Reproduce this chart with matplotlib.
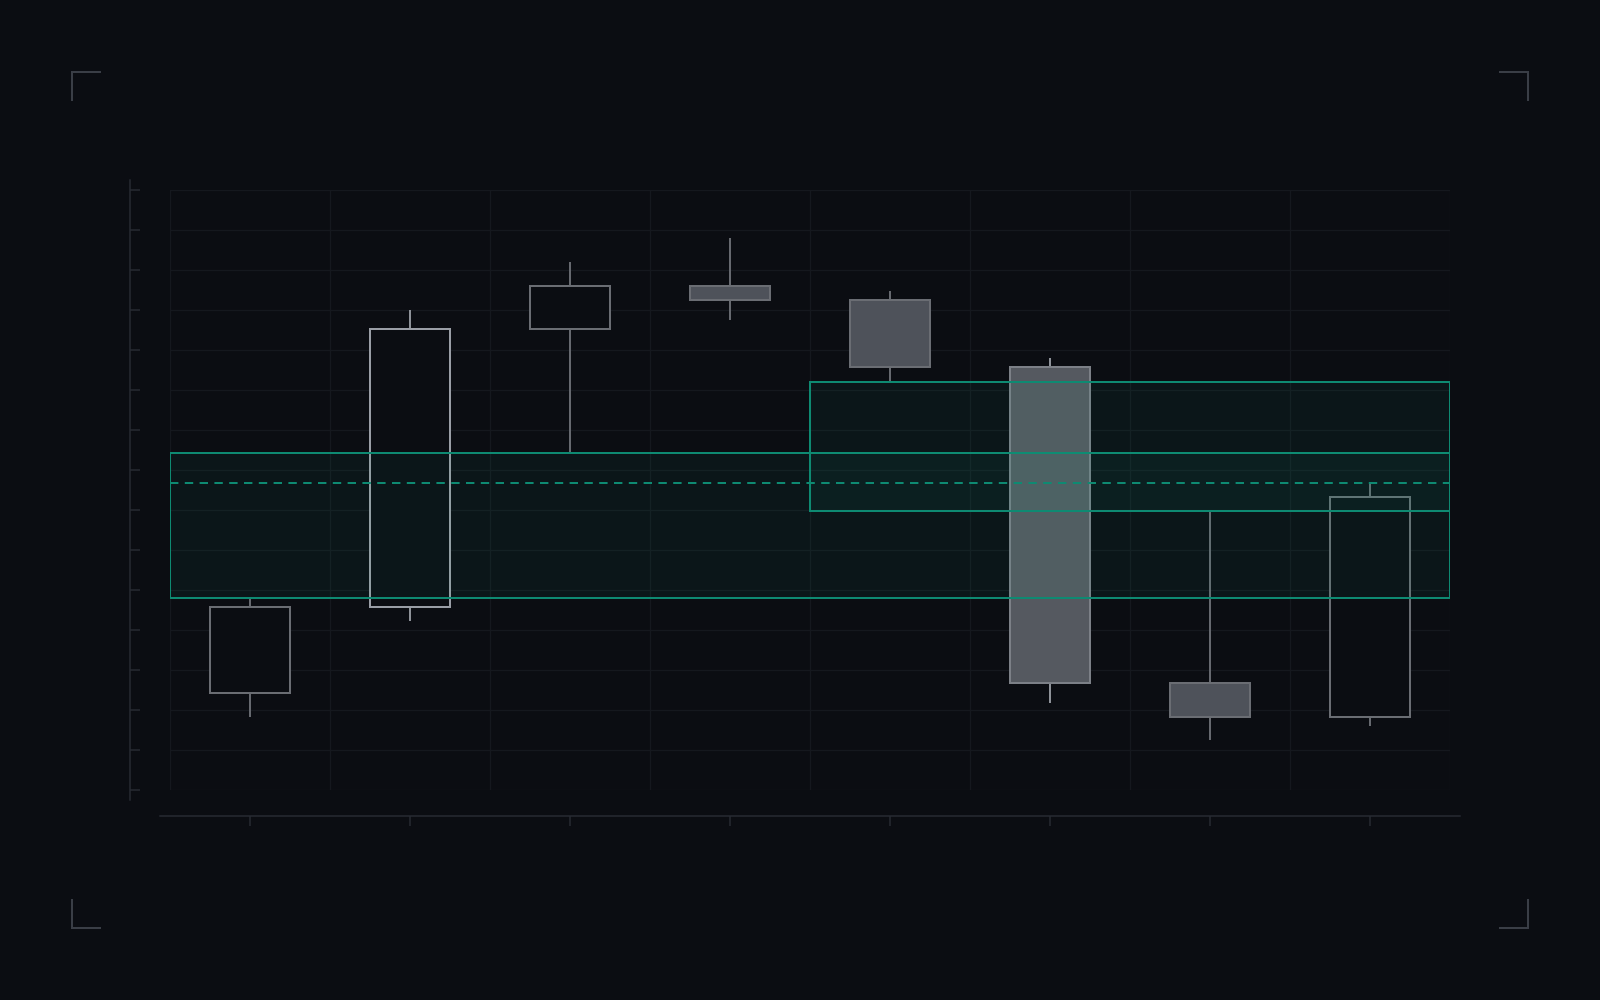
import numpy as np
import matplotlib
matplotlib.use("Agg")
import matplotlib.pyplot as plt
from matplotlib.lines import Line2D

# candle data (arbitrary price units)
opens = [2.41, 4.56, 11.53, 12.60, 12.25, 10.57, 2.66, 1.82]
highs = [4.80, 12.00, 13.20, 13.80, 12.48, 10.80, 6.97, 7.68]
lows = [1.82, 4.21, 8.42, 11.76, 10.21, 2.17, 1.23, 1.59]
closes = [4.56, 11.53, 12.60, 12.25, 10.57, 2.66, 1.82, 7.33]
highlight = [False, True, False, False, False, True, False, False]

# value areas: (start index, end index, low, high)
va_starts = [0, 4]
va_ends = [8, 8]
va_lows = [4.80, 6.97]
va_highs = [8.42, 10.21]
poc = 7.68

bg = "#0b0d12"
grid_c = "#15181e"
spine_c = "#272b33"
teal = "#0e8a72"

px = 72 / 100  # points per pixel

fig = plt.figure(figsize=(16, 10), dpi=100, facecolor=bg)
ax = fig.add_axes([170 / 1600, 210 / 1000, 1280 / 1600, 600 / 1000])
ax.set_facecolor(bg)

n = len(opens)
x = np.arange(n) + 0.5
o = np.array(opens)
c = np.array(closes)

# wicks
for i in range(n):
    wc = "#8e9299" if highlight[i] else "#66696f"
    ax.vlines(x[i], lows[i], highs[i], color=wc, lw=2 * px, zorder=2)

# bodies
for i in range(n):
    bull = c[i] >= o[i]
    if highlight[i]:
        ec = "#9a9ea6" if bull else "#7c8087"
        fc = bg if bull else "#555960"
    else:
        ec = "#6a6d73"
        fc = bg if bull else "#4e525a"
    ax.bar(x[i], abs(c[i] - o[i]), bottom=min(o[i], c[i]), width=0.5,
           facecolor=fc, edgecolor=ec, lw=2 * px, zorder=3)

# value areas
for s, e, lo, hi in zip(va_starts, va_ends, va_lows, va_highs):
    ax.fill_between([s, e], lo, hi, facecolor="#12b393", alpha=0.06, lw=0, zorder=4)
    ax.plot([s, e, e, s, s], [lo, lo, hi, hi, lo], color=teal, lw=2 * px,
            zorder=4, solid_joinstyle="miter")

ax.plot([0, 8], [poc, poc], color=teal, lw=2 * px, ls=(0, (4.2, 3.2)), zorder=5)

ax.set_xlim(0, 8)
ax.set_ylim(-0.01, 15.01)

# grid
ax.set_xticks(x)
ax.set_xticks(np.arange(0, 9), minor=True)
ax.set_yticks(np.arange(0, 16))
ax.grid(which="minor", axis="x", color=grid_c, lw=1.3 * px, zorder=0)
ax.grid(which="major", axis="y", color=grid_c, lw=1.3 * px, zorder=0)
ax.grid(which="major", axis="x", visible=False)
ax.set_axisbelow(True)

ax.tick_params(axis="x", which="minor", length=0)
ax.tick_params(axis="x", which="major", direction="out", length=10 * px,
               width=1.5 * px, color=spine_c, labelbottom=False)
ax.tick_params(axis="y", which="major", direction="in", length=10 * px,
               width=1.5 * px, color=spine_c, labelleft=False)

for side in ["top", "right"]:
    ax.spines[side].set_visible(False)
ax.spines["left"].set_position(("outward", 40 * px))
ax.spines["left"].set_bounds(-0.25, 15.25)
ax.spines["bottom"].set_position(("outward", 26 * px))
ax.spines["bottom"].set_bounds(-0.0625, 8.0625)
for side in ["left", "bottom"]:
    ax.spines[side].set_color(spine_c)
    ax.spines[side].set_linewidth(1.5 * px)

# corner brackets
W, H = 1600, 1000
arm = 28
m = 72
corners = [(m, m, 1, 1), (W - m, m, -1, 1), (m, H - m, 1, -1), (W - m, H - m, -1, -1)]
for cx, cy, dx, dy in corners:
    xs = [cx + dx * arm, cx, cx]
    ys = [cy, cy, cy + dy * arm]
    fig.add_artist(Line2D([v / W for v in xs], [1 - v / H for v in ys],
                          color="#3a3e46", lw=2 * px, transform=fig.transFigure,
                          solid_joinstyle="miter"))

fig.savefig("out.png", dpi=100, facecolor=bg)
